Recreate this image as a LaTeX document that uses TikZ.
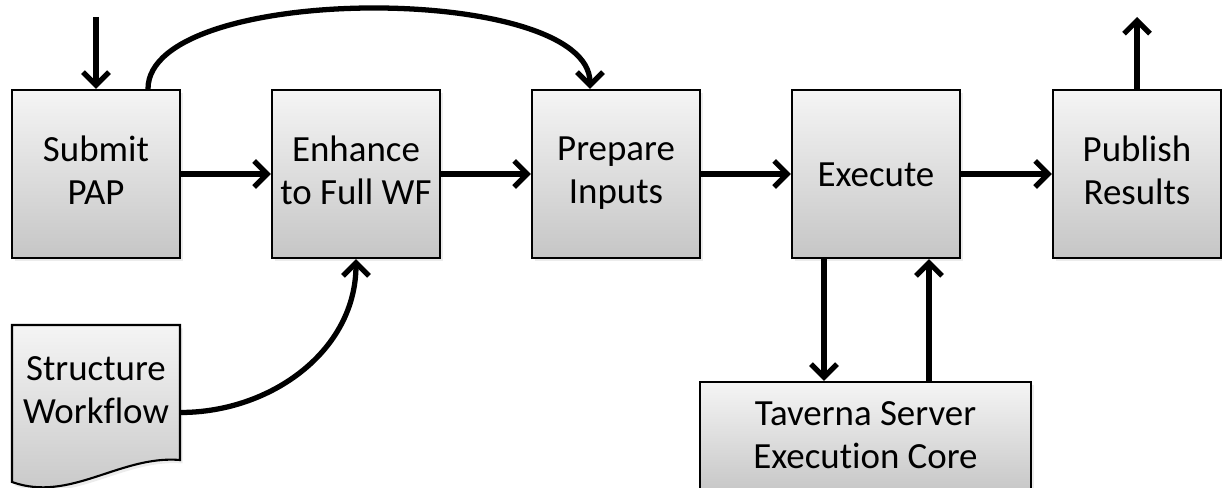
\documentclass[tikz,border=0pt]{standalone}
\usepackage{fontspec}
\setmainfont{Carlito}[Ligatures=CommonOff]
\usetikzlibrary{arrows.meta}
\usetikzlibrary{shadows}
\newcommand\lnstrut{\rule[-4.1pt]{0pt}{22.1pt}}

\tikzset{
  stage/.style={draw=black, line width=1.2pt, top color=gray!8, bottom color=gray!45,
    minimum width=3.36cm, minimum height=3.36cm, align=center,
    font=\fontsize{21}{24.5}\selectfont,
    execute at begin node=\lnstrut, execute at end node=\lnstrut,
    drop shadow={opacity=0.15, shadow xshift=0.05cm, shadow yshift=-0.07cm}},
  flow/.style={line width=3pt, -{Straight Barb[length=0.26cm,width=0.52cm,line width=3pt]}}
}

\begin{document}
\begin{tikzpicture}

\useasboundingbox (0,0) rectangle (24.44,9.76);

% process steps
\node[stage] (sub) at (1.92,6.28) {Submit\\PAP};
\node[stage] (enh) at (7.12,6.28) {Enhance\\to Full WF};
\node[stage] (prep) at (12.32,6.28) {Prepare\\Inputs};
\node[stage] (exe) at (17.52,6.28) {Execute};
\node[stage] (pub) at (22.74,6.28) {Publish\\Results};
\node[stage, minimum width=6.62cm, minimum height=2.26cm] (tav) at (17.31,0.99) {Taverna Server\\Execution Core};

% document shape
\draw[line width=1.2pt, top color=gray!8, bottom color=gray!45,
  drop shadow={opacity=0.15, shadow xshift=0.05cm, shadow yshift=-0.07cm}]
  (0.24,3.26) -- (3.6,3.26) -- (3.6,0.56) .. controls (2.4,0.66) and (1.4,-0.3) .. (0.24,0.12) -- cycle;
\node[align=center, minimum width=3.36cm, font=\fontsize{21}{24.5}\selectfont,
  execute at begin node=\lnstrut, execute at end node=\lnstrut] (wf) at (1.92,1.89) {Structure\\Workflow};

\coordinate (in) at (1.92,9.42);
\coordinate (out) at (22.74,9.42);

\draw[flow] (in) -- (sub.north);
\draw[flow] (sub) -- (enh);
\draw[flow] (enh) -- (prep);
\draw[flow] (prep) -- (exe);
\draw[flow] (exe) -- (pub);
\draw[flow] (pub.north) -- (out);
\draw[flow] ([xshift=1.04cm]sub.north) to[out=90,in=90,looseness=0.62] ([xshift=-0.52cm]prep.north);
\draw[flow] ([yshift=-0.38cm]wf.east) to[out=0,in=-90] (enh.south);
\draw[flow] ([xshift=-1.04cm]exe.south) -- ([xshift=-1.04cm]exe.south |- tav.north);
\draw[flow] ([xshift=1.06cm]exe.south |- tav.north) -- ([xshift=1.06cm]exe.south);

\end{tikzpicture}
\end{document}
